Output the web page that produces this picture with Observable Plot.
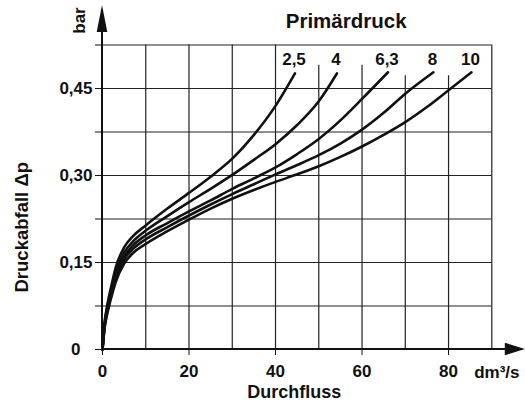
<!DOCTYPE html>
<html><head><meta charset="utf-8">
<script src="https://cdn.jsdelivr.net/npm/d3@7"></script>
<script src="https://cdn.jsdelivr.net/npm/@observablehq/plot@0.6"></script>
<style>
html,body{margin:0;padding:0;background:#fff;}
</style>
</head><body><div id="chart"></div>
<script>
// Series: primary pressure (bar) -> pressure drop vs. flow
const seriesNames = ["2,5", "4", "6,3", "8", "10"];

const flow25 = [0, 0.5, 1, 2, 3, 5, 7, 10, 15, 20, 25, 30, 35, 40, 44.5];
const dp25   = [0, 0.048, 0.072, 0.108, 0.14, 0.176, 0.195, 0.214, 0.243, 0.27, 0.298, 0.329, 0.37, 0.42, 0.476];

const flow4 = [0, 0.5, 1, 2, 3, 5, 7, 10, 15, 20, 25, 30, 35, 40, 45, 50, 54.2];
const dp4   = [0, 0.045, 0.068, 0.102, 0.132, 0.167, 0.186, 0.205, 0.23, 0.254, 0.277, 0.301, 0.327, 0.354, 0.387, 0.428, 0.476];

const flow63 = [0, 0.5, 1, 2, 3, 5, 7, 10, 15, 20, 25, 30, 35, 40, 45, 50, 55, 60, 66];
const dp63   = [0, 0.042, 0.064, 0.097, 0.125, 0.16, 0.179, 0.197, 0.218, 0.238, 0.257, 0.277, 0.295, 0.314, 0.337, 0.363, 0.395, 0.432, 0.478];

const flow8 = [0, 0.5, 1, 2, 3, 5, 7, 10, 15, 20, 25, 30, 35, 40, 45, 50, 55, 60, 65, 70, 76.5];
const dp8   = [0, 0.04, 0.061, 0.093, 0.12, 0.155, 0.173, 0.19, 0.211, 0.231, 0.25, 0.268, 0.285, 0.302, 0.318, 0.335, 0.355, 0.379, 0.408, 0.441, 0.478];

const flow10 = [0, 0.5, 1, 2, 3, 5, 7, 10, 15, 20, 25, 30, 35, 40, 45, 50, 55, 60, 65, 70, 75, 80, 85.3];
const dp10   = [0, 0.038, 0.058, 0.089, 0.115, 0.148, 0.166, 0.182, 0.204, 0.224, 0.243, 0.26, 0.275, 0.289, 0.302, 0.316, 0.332, 0.35, 0.37, 0.392, 0.418, 0.447, 0.478];

const xTicks = [0, 20, 40, 60, 80];
const xTickLabels = ["0", "20", "40", "60", "80"];
const yTicks = [0, 0.075, 0.15, 0.225, 0.3, 0.375, 0.45, 0.525];
const yTickLabels = ["", "", "0,15", "", "0,30", "", "0,45", ""];
const zeroLabel = "0";
const gridX = [10, 20, 30, 40, 50, 60, 70, 80, 90];
const gridTop = [0.525, 0.525, 0.525, 0.525, 0.49, 0.49, 0.472, 0.472, 0.525];

const title = "Primärdruck";
const yTitle = "Druckabfall Δp";
const yUnit = "bar";
const xTitle = "Durchfluss";
const xUnit = "dm³/s";

const flows = [flow25, flow4, flow63, flow8, flow10];
const dps = [dp25, dp4, dp63, dp8, dp10];

const data = seriesNames.flatMap((name, i) =>
  flows[i].map((q, j) => ({series: name, q, dp: dps[i][j]})));
const ends = seriesNames.map((name, i) => ({name, q: flows[i][flows[i].length - 1]}));

const near = (arr, v) => arr.findIndex(t => Math.abs(t - v) < 1e-9);

function axesArrows(index, scales) {
  const x = scales.x, y = scales.y;
  const x0 = x(0), y0 = y(0), yTop = y(0.525), xRight = x(90);
  const g = d3.create("svg:g").attr("fill", "#111").attr("stroke", "#111");
  g.append("line").attr("x1", x0).attr("x2", x0).attr("y1", y0).attr("y2", yTop - 13).attr("stroke-width", 2);
  g.append("line").attr("x1", x0).attr("x2", xRight + 14).attr("y1", y0).attr("y2", y0).attr("stroke-width", 2);
  g.append("path").attr("stroke", "none")
    .attr("d", `M${x0},${yTop - 39.5}L${x0 + 5.3},${yTop - 12.5}L${x0 - 5.3},${yTop - 12.5}Z`);
  g.append("path").attr("stroke", "none")
    .attr("d", `M${xRight + 34},${y0}L${xRight + 13.5},${y0 - 6.3}L${xRight + 13.5},${y0 + 6.3}Z`);
  return g.node();
}

const lbl = {textAnchor: "middle", lineAnchor: "middle", fontWeight: "bold"};

const chart = Plot.plot({
  width: 525,
  height: 405,
  marginLeft: 102,
  marginRight: 33.7,
  marginTop: 44.5,
  marginBottom: 56,
  style: {
    fontFamily: "'Liberation Sans', Arial, Helvetica, sans-serif",
    fontSize: "17px",
    fontWeight: "bold",
    background: "white",
    color: "#111"
  },
  x: {
    domain: [0, 90],
    ticks: xTicks,
    tickFormat: d => xTickLabels[near(xTicks, d)] ?? "",
    tickSize: 6,
    tickPadding: 9,
    label: null
  },
  y: {
    domain: [0, 0.525],
    ticks: yTicks,
    tickFormat: d => yTickLabels[near(yTicks, d)] ?? "",
    tickSize: 7,
    tickPadding: 3,
    label: null
  },
  marks: [
    Plot.ruleY(yTicks.slice(1), {x1: 0, x2: 90, stroke: "#222", strokeWidth: 1.2}),
    Plot.ruleX(gridX, {x: d => d, y1: 0, y2: (d, i) => gridTop[i], stroke: "#222", strokeWidth: 1.2}),
    Plot.line(data, {x: "q", y: "dp", z: "series", curve: "monotone-x", stroke: "#111", strokeWidth: 2.6}),
    Plot.text(ends, {...lbl, x: "q", text: "name", frameAnchor: "top", dy: 14.5, dx: -1, fontSize: 17}),
    Plot.text([zeroLabel], {...lbl, text: d => d, frameAnchor: "bottom-left", dx: -22, textAnchor: "end", fontSize: 17}),
    Plot.text([title], {...lbl, text: d => d, frameAnchor: "top", dx: 49, dy: -23.5, fontSize: 20.5}),
    Plot.text([yUnit], {...lbl, text: d => d, frameAnchor: "top-left", dx: -23, dy: -24.5, rotate: -90, fontSize: 17}),
    Plot.text([yTitle], {...lbl, text: d => d, frameAnchor: "left", dx: -80, dy: 30, rotate: -90, fontSize: 18.5}),
    Plot.text([xTitle], {...lbl, text: d => d, frameAnchor: "bottom", dx: -3, dy: 43, fontSize: 18}),
    Plot.text([xUnit], {...lbl, text: d => d, frameAnchor: "bottom-right", dx: 5, dy: 23, fontSize: 17}),
    axesArrows
  ]
});
document.getElementById("chart").appendChild(chart);
</script>
</body></html>
